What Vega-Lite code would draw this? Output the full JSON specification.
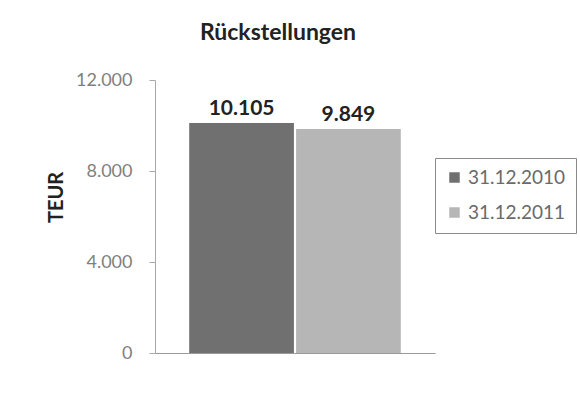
{
  "$schema": "https://vega.github.io/schema/vega-lite/v6.json",
  "width": 280,
  "height": 273,
  "autosize": "none",
  "padding": {"left": 155, "top": 80, "right": 145, "bottom": 42},
  "background": "white",
  "title": {
    "text": "Rückstellungen",
    "font": "Lato",
    "fontSize": 23,
    "fontWeight": "bold",
    "color": "#222222",
    "anchor": "middle",
    "dx": -17,
    "offset": 26
  },
  "data": {
    "values": [
      {"Stichtag": "31.12.2010", "TEUR": 10105},
      {"Stichtag": "31.12.2011", "TEUR": 9849}
    ]
  },
  "encoding": {
    "x": {
      "field": "Stichtag",
      "type": "nominal",
      "scale": {"paddingInner": 0.02, "paddingOuter": 0.32},
      "axis": {
        "title": null,
        "labels": false,
        "ticks": false,
        "domain": true,
        "domainColor": "#9a9a9a",
        "domainWidth": 1.2
      }
    },
    "y": {
      "field": "TEUR",
      "type": "quantitative",
      "scale": {"domain": [0, 12000], "nice": false},
      "axis": {
        "title": "TEUR",
        "titleFont": "Lato",
        "titleFontSize": 20,
        "titleFontWeight": "bold",
        "titleColor": "#222222",
        "titleX": -99,
        "titleY": 117,
        "titleAngle": -90,
        "titleAlign": "center",
        "titleBaseline": "middle",
        "values": [0, 4000, 8000, 12000],
        "format": ",.0f",
        "labelFont": "Lato",
        "labelFontSize": 18,
        "labelColor": "#808080",
        "labelPadding": 17,
        "tickSize": 6,
        "tickColor": "#a8a8a8",
        "domainColor": "#a8a8a8",
        "grid": false
      }
    }
  },
  "layer": [
    {
      "mark": {"type": "bar", "stroke": null},
      "encoding": {
        "color": {
          "field": "Stichtag",
          "type": "nominal",
          "scale": {"range": ["#707070", "#b6b6b6"]},
          "legend": {
            "title": null,
            "orient": "none",
            "legendX": 280,
            "legendY": 78,
            "symbolType": "square",
            "symbolSize": 110,
            "symbolStrokeWidth": 0,
            "labelFont": "Lato",
            "labelFontSize": 19,
            "labelColor": "#6a6a6a",
            "labelOffset": 4,
            "rowPadding": 15,
            "padding": 10,
            "strokeColor": "#8a8a8a",
            "fillColor": "white"
          }
        }
      }
    },
    {
      "mark": {
        "type": "text",
        "baseline": "bottom",
        "dy": -4,
        "font": "Lato",
        "fontSize": 21,
        "fontWeight": "bold",
        "color": "#222222"
      },
      "encoding": {
        "text": {"field": "TEUR", "type": "quantitative", "format": ",.0f"}
      }
    }
  ],
  "config": {
    "locale": {
      "number": {
        "decimal": ",",
        "thousands": ".",
        "grouping": [3],
        "currency": ["", " €"]
      }
    },
    "view": {"stroke": null}
  }
}
